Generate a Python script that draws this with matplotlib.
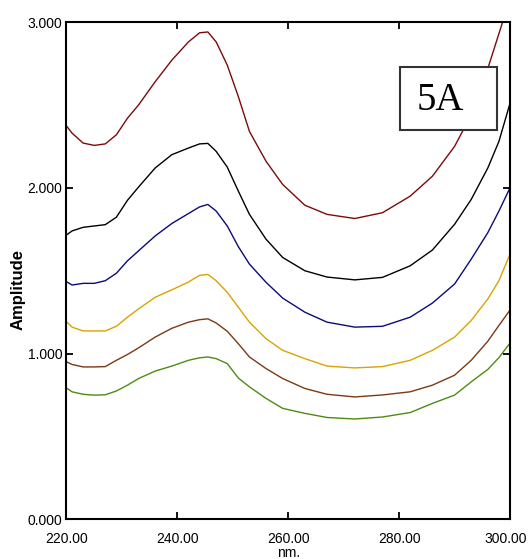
import matplotlib
matplotlib.use('Agg')
from matplotlib import rc, pyplot as plt, patches as mpatches, transforms as mtransforms

# Configurações de plotagem
rc('font', family = 'Liberation Sans', size = 10)
rc('axes', linewidth = 1.5)

# Espectros (comprimento de onda em nm, amplitude)
comprimento_onda = [220, 221, 223, 225, 227, 229, 231, 233, 236, 239, 242, 244, 245.5, 247, 249,
                    251, 253, 256, 259, 263, 267, 272, 277, 282, 286, 290, 293, 296, 298, 300]

espectro_vermelho = [2.373, 2.33, 2.27, 2.256, 2.265, 2.32, 2.42, 2.50, 2.64, 2.77, 2.88, 2.935, 2.94, 2.88, 2.74,
                     2.55, 2.34, 2.16, 2.02, 1.895, 1.84, 1.815, 1.85, 1.95, 2.07, 2.25, 2.44, 2.72, 2.93, 3.14]
espectro_preto = [1.716, 1.74, 1.762, 1.77, 1.778, 1.823, 1.925, 2.005, 2.12, 2.20, 2.24, 2.265, 2.268, 2.22, 2.125,
                  1.98, 1.84, 1.69, 1.58, 1.50, 1.462, 1.445, 1.46, 1.53, 1.625, 1.78, 1.93, 2.12, 2.28, 2.51]
espectro_azul = [1.434, 1.414, 1.424, 1.424, 1.44, 1.485, 1.56, 1.62, 1.71, 1.785, 1.845, 1.885, 1.90, 1.86, 1.77,
                 1.645, 1.54, 1.43, 1.335, 1.25, 1.19, 1.16, 1.165, 1.22, 1.305, 1.42, 1.57, 1.73, 1.86, 2.0]
espectro_dourado = [1.193, 1.16, 1.137, 1.137, 1.137, 1.165, 1.22, 1.27, 1.34, 1.385, 1.432, 1.472, 1.478, 1.44, 1.37,
                    1.28, 1.19, 1.09, 1.02, 0.97, 0.925, 0.914, 0.922, 0.96, 1.02, 1.10, 1.20, 1.33, 1.44, 1.60]
espectro_marrom = [0.951, 0.935, 0.92, 0.92, 0.922, 0.96, 0.995, 1.035, 1.10, 1.153, 1.19, 1.205, 1.21, 1.185, 1.135,
                   1.06, 0.98, 0.91, 0.85, 0.79, 0.755, 0.739, 0.751, 0.77, 0.81, 0.87, 0.96, 1.075, 1.17, 1.263]
espectro_verde = [0.793, 0.77, 0.755, 0.75, 0.752, 0.775, 0.81, 0.85, 0.895, 0.925, 0.96, 0.975, 0.98, 0.97, 0.94,
                  0.853, 0.80, 0.73, 0.67, 0.64, 0.615, 0.606, 0.618, 0.645, 0.70, 0.75, 0.83, 0.905, 0.976, 1.064]

ticks_x = [220, 240, 260, 280, 300]
ticks_y = [0, 1, 2, 3]

espectros = [(espectro_vermelho, '#7d0a0a'),
             (espectro_preto, '#000000'),
             (espectro_azul, '#0b0b7a'),
             (espectro_dourado, '#d9a300'),
             (espectro_marrom, '#7a3a12'),
             (espectro_verde, '#4f8a12')]

fig = plt.figure(figsize = (5.29, 5.59), dpi = 100)
ax = fig.add_axes([0.1257, 0.0707, 0.8384, 0.8899])

for valores, cor in espectros:
    ax.plot(comprimento_onda, valores, color = cor, linewidth = 1.0)

ax.set_xlim(220, 300)
ax.set_ylim(0, 3)
ax.set_xticks(ticks_x)
ax.set_xticklabels([f'{t:.2f}' for t in ticks_x])
ax.set_yticks(ticks_y)
ax.set_yticklabels([f'{t:.3f}' for t in ticks_y])
ax.tick_params(axis = 'both', direction = 'in', length = 5, width = 1.3, top = True, right = True)
ax.tick_params(axis = 'x', pad = 9)
ax.tick_params(axis = 'y', pad = 3)

# último rótulo do eixo x puxado um pouco para dentro
ultimo = ax.get_xticklabels()[-1]
ultimo.set_transform(ultimo.get_transform() + mtransforms.ScaledTranslation(-4 / 100, 0, fig.dpi_scale_trans))

ax.set_xlabel('nm.', fontsize = 10, labelpad = 0)
fig.text(0.034, 1 - 290 / 559, 'Amplitude', rotation = 90, fontsize = 12, fontweight = 'bold',
         ha = 'center', va = 'center')

# Caixa de identificação da figura
caixa = mpatches.Rectangle((0.7514, 0.783), 0.2192, 0.1265, transform = ax.transAxes,
                           facecolor = 'white', edgecolor = '#333333', linewidth = 1.5, zorder = 3)
ax.add_patch(caixa)
ax.text(0.842, 0.842, '5A', transform = ax.transAxes, fontsize = 28, family = 'Liberation Serif',
        ha = 'center', va = 'center', zorder = 4)

plt.savefig('out.png', dpi = 100)
